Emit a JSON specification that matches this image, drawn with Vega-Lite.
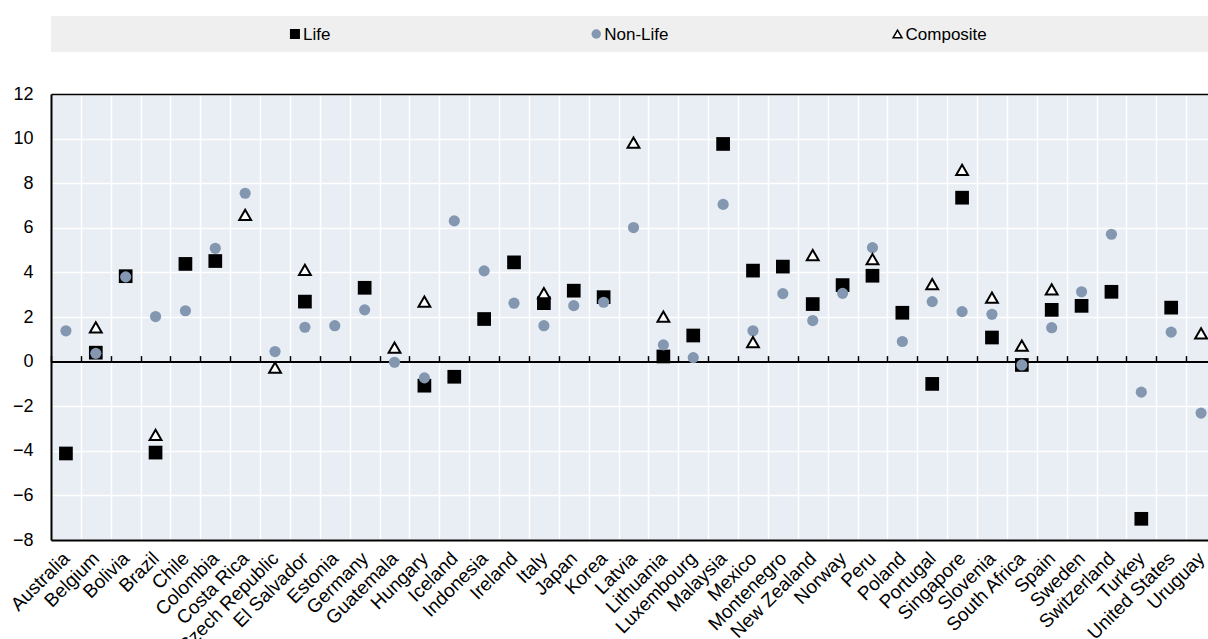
{
  "$schema": "https://vega.github.io/schema/vega-lite/v6.json",
  "padding": {"left": 7, "top": 16, "right": 0, "bottom": 0},
  "autosize": {"type": "pad"},
  "background": "#ffffff",
  "spacing": 42,
  "bounds": "flush",
  "config": {"axis": {"labelColor": "#000000"}},
  "datasets": {
    "legendItems": [
      {"series": "Life"},
      {"series": "Non-Life"},
      {"series": "Composite"}
    ],
    "growth": [
      {"country": "Australia", "Life": -4.12, "Non-Life": 1.38, "Composite": null},
      {"country": "Belgium", "Life": 0.4, "Non-Life": 0.37, "Composite": 1.54},
      {"country": "Bolivia", "Life": 3.83, "Non-Life": 3.8, "Composite": null},
      {"country": "Brazil", "Life": -4.08, "Non-Life": 2.02, "Composite": -3.29},
      {"country": "Chile", "Life": 4.38, "Non-Life": 2.28, "Composite": null},
      {"country": "Colombia", "Life": 4.51, "Non-Life": 5.08, "Composite": null},
      {"country": "Costa Rica", "Life": null, "Non-Life": 7.55, "Composite": 6.58},
      {"country": "Czech Republic", "Life": null, "Non-Life": 0.45, "Composite": -0.27},
      {"country": "El Salvador", "Life": 2.69, "Non-Life": 1.54, "Composite": 4.11},
      {"country": "Estonia", "Life": null, "Non-Life": 1.61, "Composite": null},
      {"country": "Germany", "Life": 3.31, "Non-Life": 2.32, "Composite": null},
      {"country": "Guatemala", "Life": null, "Non-Life": -0.03, "Composite": 0.63},
      {"country": "Hungary", "Life": -1.08, "Non-Life": -0.73, "Composite": 2.69},
      {"country": "Iceland", "Life": -0.68, "Non-Life": 6.31, "Composite": null},
      {"country": "Indonesia", "Life": 1.91, "Non-Life": 4.07, "Composite": null},
      {"country": "Ireland", "Life": 4.45, "Non-Life": 2.62, "Composite": null},
      {"country": "Italy", "Life": 2.62, "Non-Life": 1.61, "Composite": 3.07},
      {"country": "Japan", "Life": 3.18, "Non-Life": 2.51, "Composite": null},
      {"country": "Korea", "Life": 2.89, "Non-Life": 2.66, "Composite": null},
      {"country": "Latvia", "Life": null, "Non-Life": 6.01, "Composite": 9.82},
      {"country": "Lithuania", "Life": 0.23, "Non-Life": 0.75, "Composite": 2.02},
      {"country": "Luxembourg", "Life": 1.17, "Non-Life": 0.18, "Composite": null},
      {"country": "Malaysia", "Life": 9.76, "Non-Life": 7.05, "Composite": null},
      {"country": "Mexico", "Life": 4.08, "Non-Life": 1.38, "Composite": 0.87},
      {"country": "Montenegro", "Life": 4.26, "Non-Life": 3.05, "Composite": null},
      {"country": "New Zealand", "Life": 2.58, "Non-Life": 1.84, "Composite": 4.78},
      {"country": "Norway", "Life": 3.43, "Non-Life": 3.06, "Composite": null},
      {"country": "Peru", "Life": 3.85, "Non-Life": 5.11, "Composite": 4.59},
      {"country": "Poland", "Life": 2.19, "Non-Life": 0.9, "Composite": null},
      {"country": "Portugal", "Life": -1.0, "Non-Life": 2.69, "Composite": 3.47},
      {"country": "Singapore", "Life": 7.35, "Non-Life": 2.24, "Composite": 8.6},
      {"country": "Slovenia", "Life": 1.08, "Non-Life": 2.12, "Composite": 2.87},
      {"country": "South Africa", "Life": -0.15, "Non-Life": -0.15, "Composite": 0.72},
      {"country": "Spain", "Life": 2.32, "Non-Life": 1.52, "Composite": 3.24},
      {"country": "Sweden", "Life": 2.5, "Non-Life": 3.13, "Composite": null},
      {"country": "Switzerland", "Life": 3.13, "Non-Life": 5.71, "Composite": null},
      {"country": "Turkey", "Life": -7.05, "Non-Life": -1.37, "Composite": null},
      {"country": "United States", "Life": 2.42, "Non-Life": 1.32, "Composite": null},
      {"country": "Uruguay", "Life": null, "Non-Life": -2.31, "Composite": 1.27}
    ]
  },
  "vconcat": [
    {
      "width": 1157,
      "height": 36,
      "view": {"fill": "#efefef", "stroke": null},
      "data": {"name": "legendItems"},
      "encoding": {
        "x": {
          "field": "series",
          "type": "nominal",
          "scale": {"type": "point", "domain": ["Life", "Non-Life", "Composite"], "padding": 0.92, "align": 0.44},
          "axis": null
        }
      },
      "layer": [
        {
          "mark": {"type": "point", "filled": true, "opacity": 1, "strokeWidth": 1.5},
          "encoding": {
            "shape": {"field": "series", "type": "nominal", "scale": {"domain": ["Life", "Non-Life", "Composite"], "range": ["square", "circle", "triangle-up"]}, "legend": null},
            "fill": {"field": "series", "type": "nominal", "scale": {"domain": ["Life", "Non-Life", "Composite"], "range": ["#000000", "#8497b0", "#ffffff"]}, "legend": null},
            "stroke": {"field": "series", "type": "nominal", "scale": {"domain": ["Life", "Non-Life", "Composite"], "range": ["transparent", "transparent", "#000000"]}, "legend": null},
            "size": {"field": "series", "type": "nominal", "scale": {"domain": ["Life", "Non-Life", "Composite"], "range": [100, 80, 120]}, "legend": null}
          }
        },
        {
          "mark": {"type": "text", "align": "left", "baseline": "middle", "dx": 8, "dy": 1, "font": "Liberation Sans", "fontSize": 17, "color": "#000000"},
          "encoding": {"text": {"field": "series", "type": "nominal"}}
        }
      ]
    },
    {
      "width": 1165,
      "height": 446,
      "view": {"fill": "#e9eef5", "stroke": null},
      "data": {"name": "growth"},
      "transform": [
        {"fold": ["Life", "Non-Life", "Composite"], "as": ["series", "value"]},
        {"filter": "isValid(datum.value)"}
      ],
      "encoding": {
        "y": {
          "field": "value",
          "type": "quantitative",
          "scale": {"domain": [-8, 12], "nice": false, "zero": false},
          "axis": {
            "values": [-8, -6, -4, -2, 0, 2, 4, 6, 8, 10, 12],
            "title": null,
            "ticks": false,
            "labelFont": "Liberation Sans",
            "labelFontSize": 18,
            "labelPadding": 18,
            "domain": true,
            "domainColor": "#000000",
            "domainWidth": 2,
            "grid": true,
            "gridColor": "#ffffff",
            "gridWidth": 1.5
          }
        }
      },
      "layer": [
        {
          "transform": [{"filter": "datum.series == 'Life'"}],
          "mark": {"type": "point", "shape": "square", "filled": true, "color": "#000000", "size": 188, "opacity": 1},
          "encoding": {
            "x": {
              "field": "country",
              "type": "nominal",
              "sort": "ascending",
              "scale": {"paddingInner": 0, "paddingOuter": 0},
              "axis": {
                "orient": "bottom",
                "title": null,
                "labelAngle": -45,
                "labelAlign": "right",
                "labelBaseline": "middle",
                "labelFont": "Liberation Sans",
                "labelFontSize": 19,
                "labelPadding": 15,
                "ticks": false,
                "domain": true,
                "domainColor": "#000000",
                "domainWidth": 2,
                "grid": true,
                "gridColor": "#ffffff",
                "gridWidth": 1.5,
                "tickBand": "extent",
                "labelLimit": 300
              }
            }
          }
        },
        {
          "transform": [{"filter": "datum.series == 'Non-Life'"}],
          "mark": {"type": "point", "shape": "circle", "filled": true, "color": "#8497b0", "size": 125, "opacity": 1},
          "encoding": {
            "x": {
              "field": "country",
              "type": "nominal",
              "sort": "ascending",
              "axis": {
                "orient": "bottom",
                "offset": -178.4,
                "title": null,
                "labels": false,
                "ticks": true,
                "tickSize": -6,
                "tickColor": "#000000",
                "tickWidth": 1.5,
                "domain": true,
                "domainColor": "#000000",
                "domainWidth": 2,
                "grid": false,
                "tickBand": "extent"
              }
            }
          }
        },
        {
          "transform": [{"filter": "datum.series == 'Composite'"}],
          "mark": {"type": "point", "shape": "triangle-up", "filled": false, "fill": "#ffffff", "stroke": "#000000", "strokeWidth": 2, "size": 140, "opacity": 1, "fillOpacity": 1},
          "encoding": {
            "x": {
              "field": "country",
              "type": "nominal",
              "sort": "ascending",
              "axis": {
                "orient": "top",
                "title": null,
                "labels": false,
                "ticks": false,
                "grid": false,
                "domain": true,
                "domainColor": "#000000",
                "domainWidth": 1.5
              }
            }
          }
        }
      ],
      "resolve": {"axis": {"x": "independent"}}
    }
  ]
}
